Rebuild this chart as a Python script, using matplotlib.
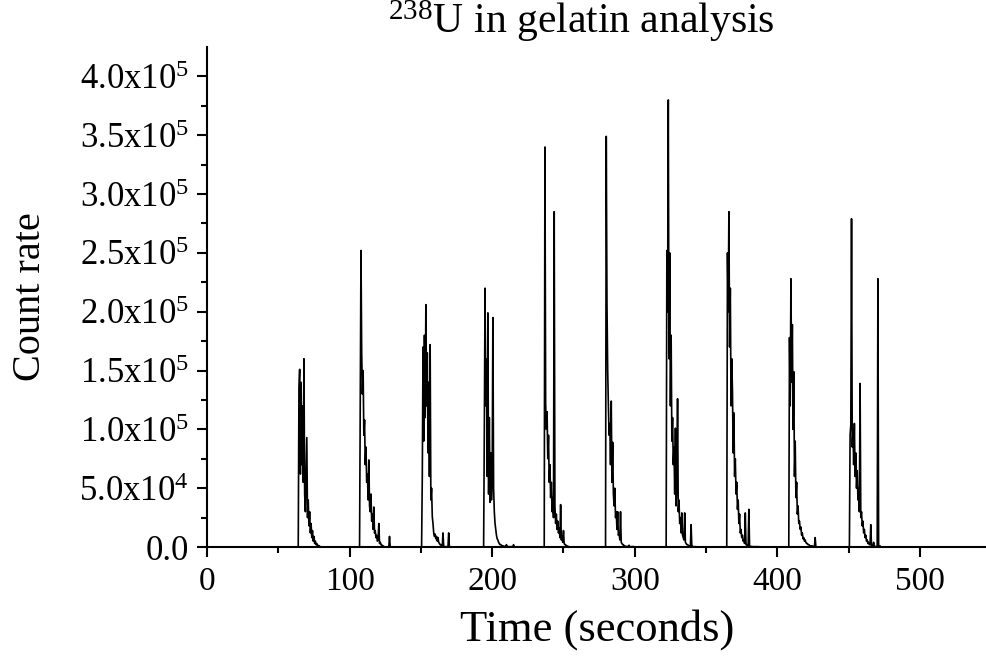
"""238U in gelatin analysis: count rate vs time (laser ablation / ICP-MS style spikes)."""

import matplotlib

matplotlib.use("Agg")
import matplotlib.pyplot as plt
import numpy as np

plt.rcParams["font.family"] = ["Liberation Serif", "DejaVu Serif"]
plt.rcParams["mathtext.fontset"] = "custom"
plt.rcParams["mathtext.rm"] = "Liberation Serif"
plt.rcParams["mathtext.it"] = "Liberation Serif:italic"

DT = 0.5                # sampling step of the trace (s)
T_END = 547.0

# start time of each burst (s) and its count rate samples, in thousands, every DT seconds
BURST_START = [64.5, 107.5, 151.0, 194.5, 237.0, 280.0, 322.5, 365.0, 408.5, 451.0]

BURST_01 = [135, 151, 62, 140, 70, 120, 55, 160, 45, 30, 60, 93, 25, 40, 18, 30, 12, 20,
            8, 14, 5, 9, 3, 5, 2, 3, 1, 1.5, 0.5, 0.8, 0]
BURST_02 = [120, 252, 165, 130, 150, 95, 108, 70, 85, 55, 62, 40, 74, 35, 30, 45, 22, 28,
            15, 34, 12, 14, 8, 10, 5, 6, 20, 3, 4, 2, 2, 1, 1, 0.5, 0, 0, 0, 0, 0, 0, 0, 9, 0]
BURST_03 = [60, 170, 90, 180, 110, 206, 120, 165, 80, 140, 60, 172, 40, 50, 26, 20, 12, 9,
            11, 7, 9, 5, 8, 4, 3, 2, 2, 1, 0.5, 12, 0.5, 0.3, 0.3, 0.3, 0.3, 0.3, 0.3, 12, 0]
BURST_04 = [100, 220, 120, 160, 60, 199, 45, 110, 38, 80, 40, 60, 195, 50, 30, 20, 15, 10,
            7, 6, 4, 3, 2, 2, 1.5, 1, 1, 0.8, 0.5, 0.5, 0.5, 2, 0.5, 0.3, 0.3, 0.3, 0.3, 0.3,
            0.3, 0.3, 0.3, 2, 0]
BURST_05 = [340, 122, 100, 115, 75, 95, 55, 70, 42, 55, 30, 42, 25, 285, 35, 20, 28, 15, 22,
            12, 16, 8, 36, 6, 9, 4, 14, 3, 2, 2, 1, 1, 0.5, 0.5, 0]
BURST_06 = [349, 208, 150, 120, 95, 105, 70, 124, 55, 89, 45, 35, 50, 25, 30, 15, 30, 10,
            12, 6, 30, 4, 3, 2, 2, 1, 1, 0.5, 0.5, 0.5, 0.5, 0.5, 1.5, 0.3, 0.3, 0.3, 0.3,
            0.3, 0.5, 0]
BURST_07 = [252, 200, 380, 160, 250, 120, 180, 90, 110, 70, 85, 45, 101, 35, 55, 126, 30, 40,
            20, 25, 12, 29, 10, 8, 6, 29, 4, 3, 2, 2, 1.5, 1, 1, 0.5, 19, 0.5, 0.5, 0.3, 0.3,
            0.3, 0.3, 0.3, 0]
BURST_08 = [250, 200, 285, 170, 220, 120, 160, 133, 80, 114, 60, 75, 45, 55, 32, 40, 20, 28,
            12, 15, 8, 10, 5, 6, 3, 29, 2, 2, 1, 1, 32, 0.5, 0.5, 0.5, 0.5, 0.3, 0.3, 0.3,
            0.3, 0.3, 0.3, 0.3, 0.3, 0.3, 0.3, 0]
BURST_09 = [178, 120, 228, 140, 189, 100, 149, 60, 90, 42, 55, 28, 35, 20, 22, 15, 17, 10,
            12, 7, 8, 5, 6, 4, 3, 3, 2, 2, 1.5, 1, 1, 1, 1, 0.5, 0.5, 0.5, 8, 0]
BURST_10 = [95, 104, 279, 85, 100, 70, 105, 60, 80, 50, 65, 40, 50, 30, 139, 25, 30, 18, 22,
            12, 15, 8, 10, 5, 6, 3, 4, 2, 2, 19, 1, 1, 1, 4, 0.5, 0.5, 0.5, 0.5, 0.5, 228,
            0.5, 0.5, 1, 0]

BURSTS = [BURST_01, BURST_02, BURST_03, BURST_04, BURST_05,
          BURST_06, BURST_07, BURST_08, BURST_09, BURST_10]

X_TICKS = [0, 100, 200, 300, 400, 500]
Y_TICKS = [0, 5e4, 1e5, 1.5e5, 2e5, 2.5e5, 3e5, 3.5e5, 4e5]
Y_TICK_LABELS = ["0.0", "5.0x10$^{4}$", "1.0x10$^{5}$", "1.5x10$^{5}$", "2.0x10$^{5}$",
                 "2.5x10$^{5}$", "3.0x10$^{5}$", "3.5x10$^{5}$", "4.0x10$^{5}$"]


def build_trace():
    """Place every burst on a common DT grid, zero baseline elsewhere."""
    t = np.arange(0.0, T_END + DT, DT)
    y = np.zeros_like(t)
    for start, vals in zip(BURST_START, BURSTS):
        i0 = int(round(start / DT))
        y[i0:i0 + len(vals)] = np.asarray(vals, dtype=float) * 1e3
    return t, y


def main():
    t, y = build_trace()

    fig = plt.figure(figsize=(9.87, 6.57), dpi=100)
    ax = fig.add_axes([0.2097, 0.1674, 0.7903, 0.7611])
    ax.plot(t, y, color="black", lw=1.2)

    ax.set_xlim(0, T_END)
    ax.set_ylim(0, 4.25e5)
    ax.set_xticks(X_TICKS)
    ax.set_xticks(np.arange(50, 550, 100), minor=True)
    ax.set_yticks(Y_TICKS)
    ax.set_yticklabels(Y_TICK_LABELS)
    ax.set_yticks(np.arange(2.5e4, 4.25e5, 5e4), minor=True)

    for side in ("top", "right"):
        ax.spines[side].set_visible(False)
    for side in ("left", "bottom"):
        ax.spines[side].set_linewidth(1.5)

    ax.tick_params(which="major", direction="out", length=7, width=1.5)
    ax.tick_params(which="minor", direction="out", length=4, width=1.5)
    ax.tick_params(axis="x", pad=7, labelsize=24)
    ax.tick_params(axis="y", pad=6, labelsize=25)

    ax.set_xlabel("Time (seconds)", fontsize=32, labelpad=9)
    ax.set_ylabel("Count rate", fontsize=29, labelpad=22)
    ax.set_title("$^{238}$U in gelatin analysis", fontsize=30, pad=10, x=0.48)

    fig.savefig("out.png", dpi=100)
    plt.close(fig)


if __name__ == "__main__":
    main()
